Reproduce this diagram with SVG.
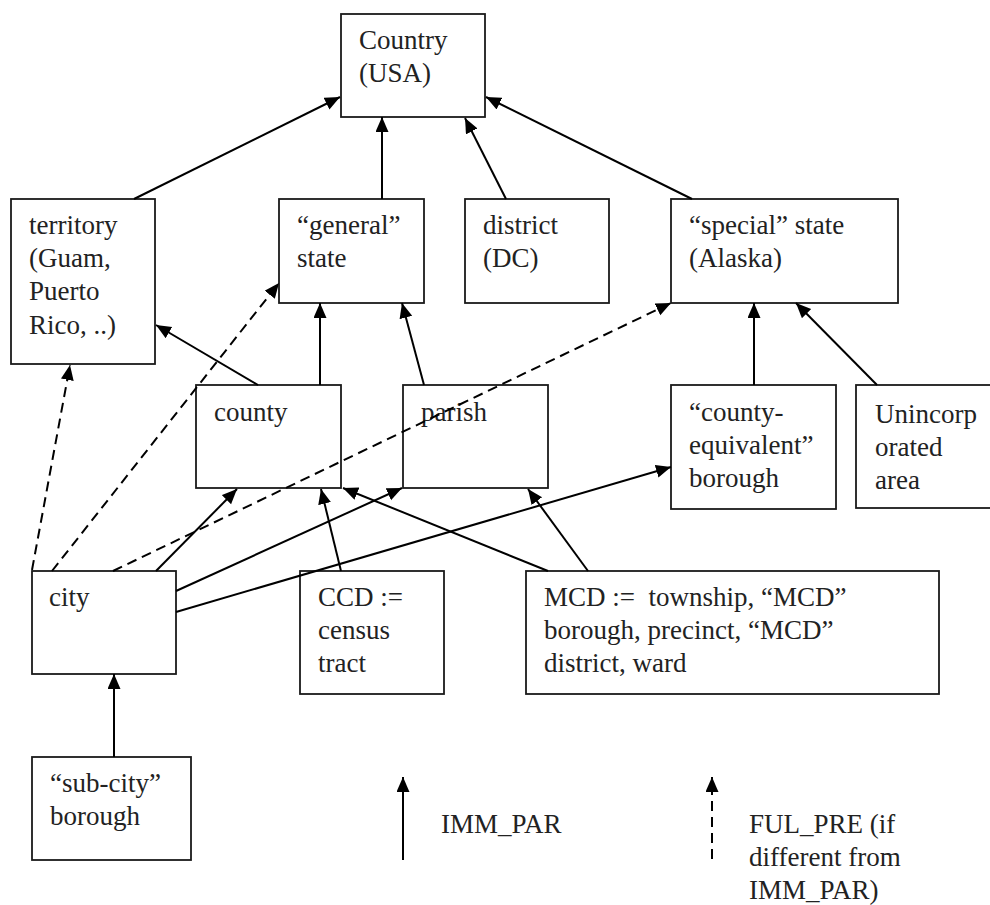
<svg xmlns="http://www.w3.org/2000/svg" width="990" height="905" viewBox="0 0 990 905">
<style>
  .box { fill: none; stroke: #1a1a1a; stroke-width: 1.8; }
  .lbl { font-family: "Liberation Serif", "Times New Roman", "DejaVu Serif", serif; font-size: 27px; fill: #222222; white-space: pre; }
  .edge { stroke: #000000; stroke-width: 2; fill: none; marker-end: url(#arr); }
  .dash { stroke-dasharray: 10 6; }
</style>
<defs>
  <marker id="arr" markerUnits="userSpaceOnUse" markerWidth="16" markerHeight="14" refX="15" refY="6.5" orient="auto">
    <path d="M0,0 L15,6.5 L0,13 z" fill="#000000"/>
  </marker>
</defs>
<rect width="990" height="905" fill="#ffffff"/>

<g id="country">
  <rect class="box" x="341" y="14" width="144" height="103"/>
  <text class="lbl" x="359" y="49">Country</text>
  <text class="lbl" x="359" y="82">(USA)</text>
</g>
<g id="territory">
  <rect class="box" x="11" y="199" width="144" height="165"/>
  <text class="lbl" x="29" y="234">territory</text>
  <text class="lbl" x="29" y="267">(Guam,</text>
  <text class="lbl" x="29" y="300">Puerto</text>
  <text class="lbl" x="29" y="334">Rico, ..)</text>
</g>
<g id="general-state">
  <rect class="box" x="279" y="199" width="145" height="104"/>
  <text class="lbl" x="297" y="234">“general”</text>
  <text class="lbl" x="297" y="267">state</text>
</g>
<g id="district">
  <rect class="box" x="465" y="199" width="144" height="104"/>
  <text class="lbl" x="483" y="234">district</text>
  <text class="lbl" x="483" y="267">(DC)</text>
</g>
<g id="special-state">
  <rect class="box" x="671" y="199" width="227" height="104"/>
  <text class="lbl" x="689" y="234">“special” state</text>
  <text class="lbl" x="689" y="267">(Alaska)</text>
</g>
<g id="county">
  <rect class="box" x="196" y="385" width="145" height="103"/>
  <text class="lbl" x="214" y="421">county</text>
</g>
<g id="parish">
  <rect class="box" x="403" y="385" width="145" height="103"/>
  <text class="lbl" x="421" y="421">parish</text>
</g>
<g id="county-equivalent">
  <rect class="box" x="671" y="385" width="165" height="124"/>
  <text class="lbl" x="689" y="421">“county-</text>
  <text class="lbl" x="689" y="454">equivalent”</text>
  <text class="lbl" x="689" y="487">borough</text>
</g>
<g id="unincorporated">
  <rect class="box" x="856" y="385" width="150" height="123"/>
  <text class="lbl" x="875" y="423">Unincorp</text>
  <text class="lbl" x="875" y="456">orated</text>
  <text class="lbl" x="875" y="489">area</text>
</g>
<g id="city">
  <rect class="box" x="32" y="571" width="144" height="103"/>
  <text class="lbl" x="49" y="606">city</text>
</g>
<g id="ccd">
  <rect class="box" x="300" y="571" width="144" height="123"/>
  <text class="lbl" x="318" y="606">CCD :=</text>
  <text class="lbl" x="318" y="639">census</text>
  <text class="lbl" x="318" y="672">tract</text>
</g>
<g id="mcd">
  <rect class="box" x="526" y="571" width="413" height="123"/>
  <text class="lbl" x="544" y="606">MCD :=  township, “MCD”</text>
  <text class="lbl" x="544" y="639">borough, precinct, “MCD”</text>
  <text class="lbl" x="544" y="672">district, ward</text>
</g>
<g id="sub-city">
  <rect class="box" x="32" y="757" width="159" height="103"/>
  <text class="lbl" x="50" y="792">“sub-city”</text>
  <text class="lbl" x="50" y="825">borough</text>
</g>

<g id="connectors">
  <line class="edge" x1="134" y1="199" x2="340" y2="97"/>
  <line class="edge" x1="382" y1="199" x2="382" y2="117"/>
  <line class="edge" x1="506" y1="199" x2="465" y2="118"/>
  <line class="edge" x1="692" y1="199" x2="486" y2="97"/>
  <line class="edge" x1="258" y1="385" x2="156" y2="325"/>
  <line class="edge" x1="320" y1="385" x2="320" y2="303"/>
  <line class="edge" x1="424" y1="385" x2="402" y2="303"/>
  <line class="edge" x1="754" y1="385" x2="754" y2="303"/>
  <line class="edge" x1="877" y1="385" x2="796" y2="303"/>
  <line class="edge dash" x1="32" y1="570" x2="70" y2="365"/>
  <line class="edge dash" x1="52" y1="571" x2="279" y2="283"/>
  <line class="edge dash" x1="113" y1="571" x2="671" y2="303"/>
  <line class="edge" x1="156" y1="571" x2="237" y2="489"/>
  <line class="edge" x1="176" y1="591" x2="402" y2="488"/>
  <line class="edge" x1="176" y1="612" x2="671" y2="467"/>
  <line class="edge" x1="341" y1="571" x2="321" y2="489"/>
  <line class="edge" x1="548" y1="571" x2="343" y2="488"/>
  <line class="edge" x1="588" y1="571" x2="528" y2="489"/>
  <line class="edge" x1="114" y1="757" x2="114" y2="674"/>
</g>

<g id="legend">
  <line class="edge" x1="403" y1="860" x2="403" y2="777"/>
  <text class="lbl" x="441" y="833">IMM_PAR</text>
  <line class="edge dash" x1="712" y1="859" x2="712" y2="777"/>
  <text class="lbl" x="749" y="833">FUL_PRE (if</text>
  <text class="lbl" x="749" y="866">different from</text>
  <text class="lbl" x="749" y="899">IMM_PAR)</text>
</g>
</svg>
